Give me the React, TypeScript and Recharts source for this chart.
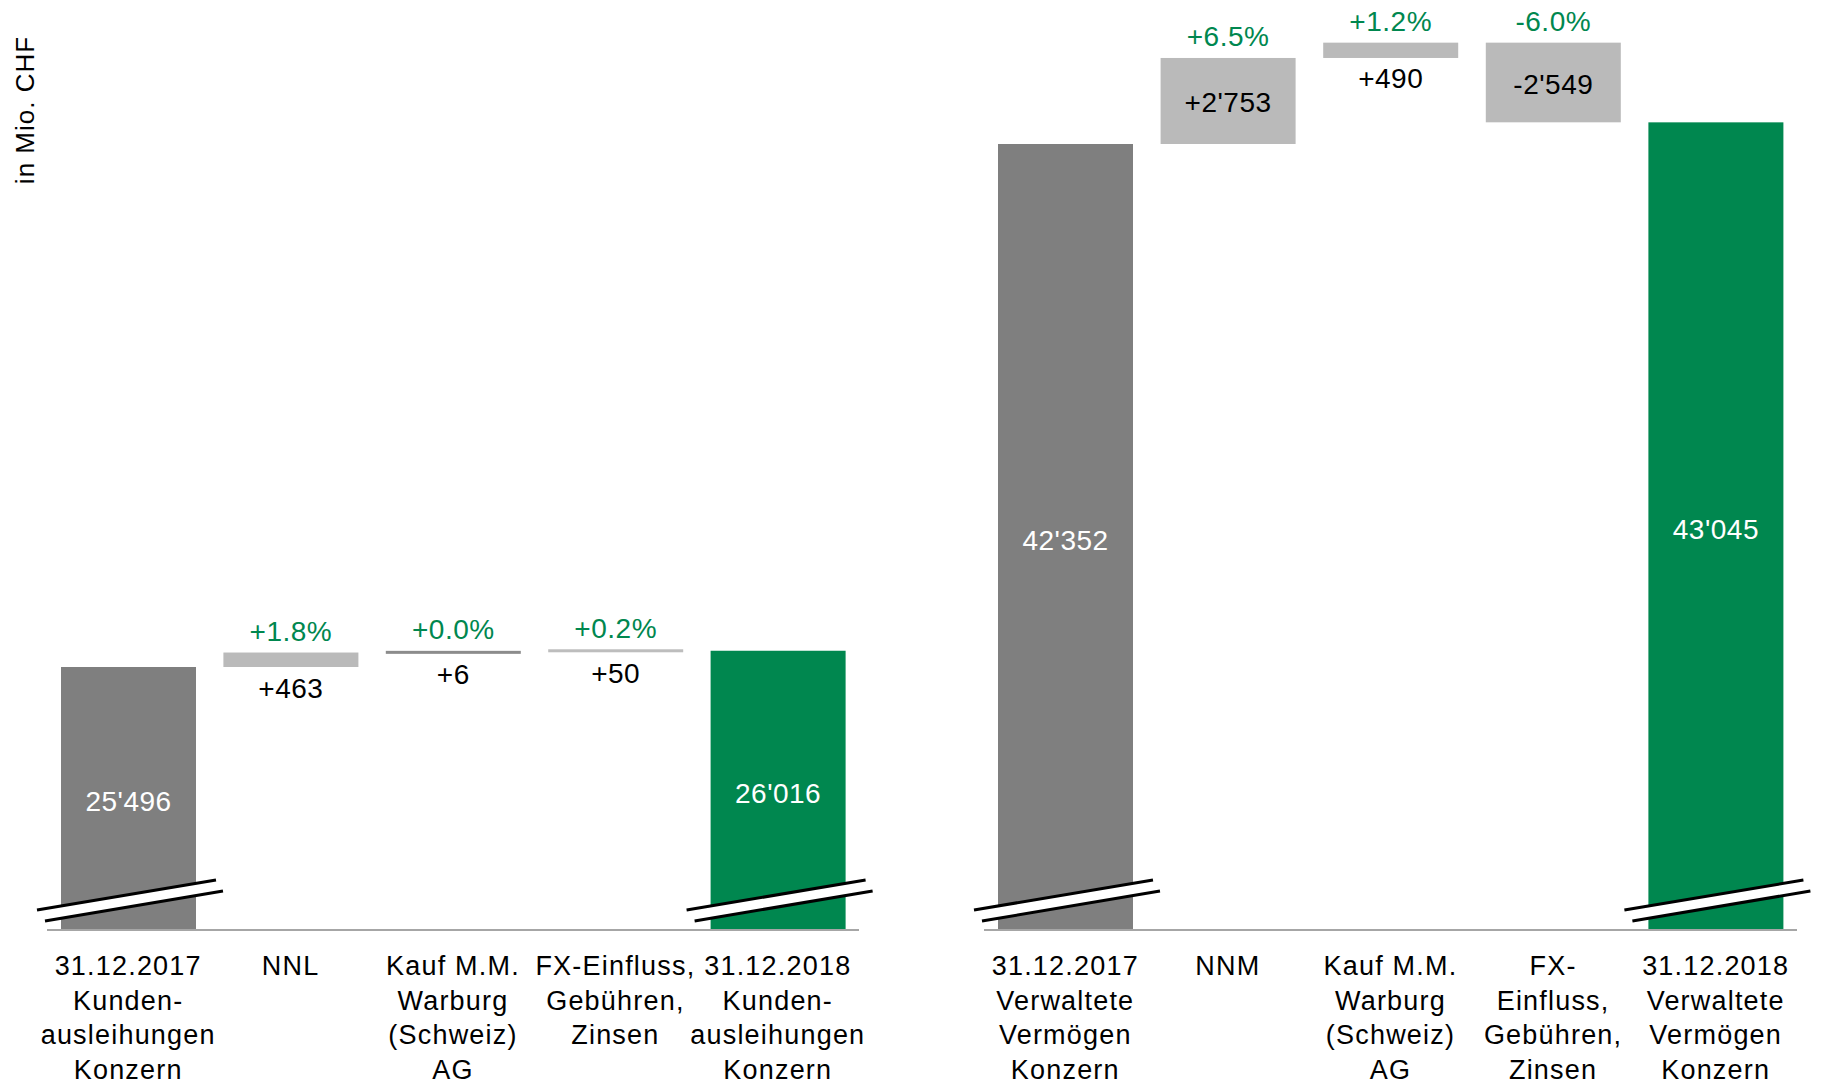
import React from 'react';
import { BarChart, Bar, XAxis, YAxis, Cell } from 'recharts';

// Kundenausleihungen (left) and Verwaltete Vermögen (right), in Mio. CHF
const leftLabels = [
  '31.12.2017\nKunden-\nausleihungen\nKonzern',
  'NNL',
  'Kauf M.M.\nWarburg\n(Schweiz)\nAG',
  'FX-Einfluss,\nGebühren,\nZinsen',
  '31.12.2018\nKunden-\nausleihungen\nKonzern',
];
const leftValues = [25496, 463, 6, 50, 26016];
const leftPercents = ['', '+1.8%', '+0.0%', '+0.2%', ''];
const leftDomain = [17080, 46840];

const rightLabels = [
  '31.12.2017\nVerwaltete\nVermögen\nKonzern',
  'NNM',
  'Kauf M.M.\nWarburg\n(Schweiz)\nAG',
  'FX-\nEinfluss,\nGebühren,\nZinsen',
  '31.12.2018\nVerwaltete\nVermögen\nKonzern',
];
const rightValues = [42352, 2753, 490, -2549, 43045];
const rightPercents = ['', '+6.5%', '+1.2%', '-6.0%', ''];
const rightDomain = [17200, 46960];

const GREEN = '#00874f';
const GREY_TOTAL = '#7f7f7f';
const GREY_DELTA = '#bababa';
const FONT = '"Liberation Sans", Arial, sans-serif';

const fmt = (v: number) => {
  const s = Math.abs(v).toString().replace(/\B(?=(\d{3})+(?!\d))/g, "'");
  return v < 0 ? '-' + s : s;
};

function buildRows(labels: string[], values: number[], percents: string[], min: number, thinColors: string[]) {
  let running = values[0];
  return labels.map((name, i) => {
    const last = i === labels.length - 1;
    if (i === 0 || last) {
      return { name, range: [min, values[i]], kind: 'total', label: fmt(values[i]), pct: '', fill: i === 0 ? GREY_TOTAL : GREEN };
    }
    const start = running;
    running += values[i];
    return {
      name,
      range: [Math.min(start, running), Math.max(start, running)],
      kind: 'delta',
      label: (values[i] > 0 ? '+' : '') + fmt(values[i]),
      pct: percents[i],
      fill: thinColors[i] || GREY_DELTA,
    };
  });
}

const leftRows = buildRows(leftLabels, leftValues, leftPercents, leftDomain[0], ['', '', '#8c8c8c', '#bdbdbd', '']);
const rightRows = buildRows(rightLabels, rightValues, rightPercents, rightDomain[0], ['', '', '', '', '']);

const WaterfallShape = (props: any) => {
  const { x, y, width, height, payload } = props;
  const top = Math.min(y, y + height);
  const h = Math.abs(height);
  const bottom = top + h;
  const cx = x + width / 2;
  const textProps = {
    fontFamily: FONT,
    fontSize: 28,
    letterSpacing: 0.5,
    textAnchor: 'middle' as const,
    dominantBaseline: 'central' as const,
  };

  if (payload.kind === 'total') {
    const b = bottom;
    return (
      <g>
        <rect x={x} y={top} width={width} height={h} fill={payload.fill} />
        <polygon
          points={`${x - 24},${b - 20} ${x + width + 20},${b - 50} ${x + width + 27},${b - 39} ${x - 16},${b - 9}`}
          fill="#fff"
        />
        <line x1={x - 24} y1={b - 20} x2={x + width + 20} y2={b - 50} stroke="#000" strokeWidth={3} />
        <line x1={x - 16} y1={b - 9} x2={x + width + 27} y2={b - 39} stroke="#000" strokeWidth={3} />
        <text x={cx} y={top + h / 2 + 3} fill="#fff" {...textProps}>{payload.label}</text>
      </g>
    );
  }

  let drawTop = top;
  let drawH = h;
  if (h < 3) {
    drawTop = top - 1.5;
    drawH = 3;
  }
  const big = h >= 40;
  return (
    <g>
      <rect x={x} y={drawTop} width={width} height={drawH} fill={payload.fill} />
      <text x={cx} y={drawTop - 21} fill={GREEN} {...textProps}>{payload.pct}</text>
      <text x={cx} y={big ? top + h / 2 + 2 : drawTop + drawH + 21} fill="#000" {...textProps}>{payload.label}</text>
    </g>
  );
};

const CategoryTick = (props: any) => {
  const { x, y, payload } = props;
  const lines = String(payload.value).split('\n');
  return (
    <g>
      {lines.map((line, i) => (
        <text
          key={i}
          x={x}
          y={y + 36 + i * 34.5}
          textAnchor="middle"
          dominantBaseline="central"
          fontFamily={FONT}
          fontSize={27}
          letterSpacing={1.2}
          fill="#000"
        >
          {line}
        </text>
      ))}
    </g>
  );
};

function Waterfall({ rows, domain, left, width, marginLeft, marginRight }: any) {
  return (
    <div style={{ position: 'absolute', left, top: 0 }}>
      <BarChart
        width={width}
        height={1084}
        data={rows}
        margin={{ top: 0, right: marginRight, bottom: 0, left: marginLeft }}
        barSize={135}
      >
        <XAxis
          dataKey="name"
          height={154}
          interval={0}
          tickLine={false}
          tickSize={0}
          tickMargin={0}
          axisLine={{ stroke: '#a6a6a6', strokeWidth: 2 }}
          tick={<CategoryTick />}
        />
        <YAxis hide domain={domain} allowDataOverflow type="number" />
        <Bar dataKey="range" shape={<WaterfallShape />} isAnimationActive={false}>
          {rows.map((r: any, i: number) => (
            <Cell key={i} fill={r.fill} />
          ))}
        </Bar>
      </BarChart>
    </div>
  );
}

export default function App() {
  return (
    <div style={{ position: 'absolute', left: 0, top: 0, width: 1822, height: 1084, background: '#fff', fontFamily: FONT }}>
      <svg width={60} height={220} style={{ position: 'absolute', left: 0, top: 0 }}>
        <text
          x={25}
          y={110}
          transform="rotate(-90 25 110)"
          textAnchor="middle"
          dominantBaseline="central"
          fontFamily={FONT}
          fontSize={26}
          letterSpacing={1}
          fill="#000"
        >
          in Mio. CHF
        </text>
      </svg>
      <Waterfall rows={leftRows} domain={leftDomain} left={0} width={900} marginLeft={47} marginRight={41} />
      <Waterfall rows={rightRows} domain={rightDomain} left={920} width={902} marginLeft={64} marginRight={25} />
    </div>
  );
}
